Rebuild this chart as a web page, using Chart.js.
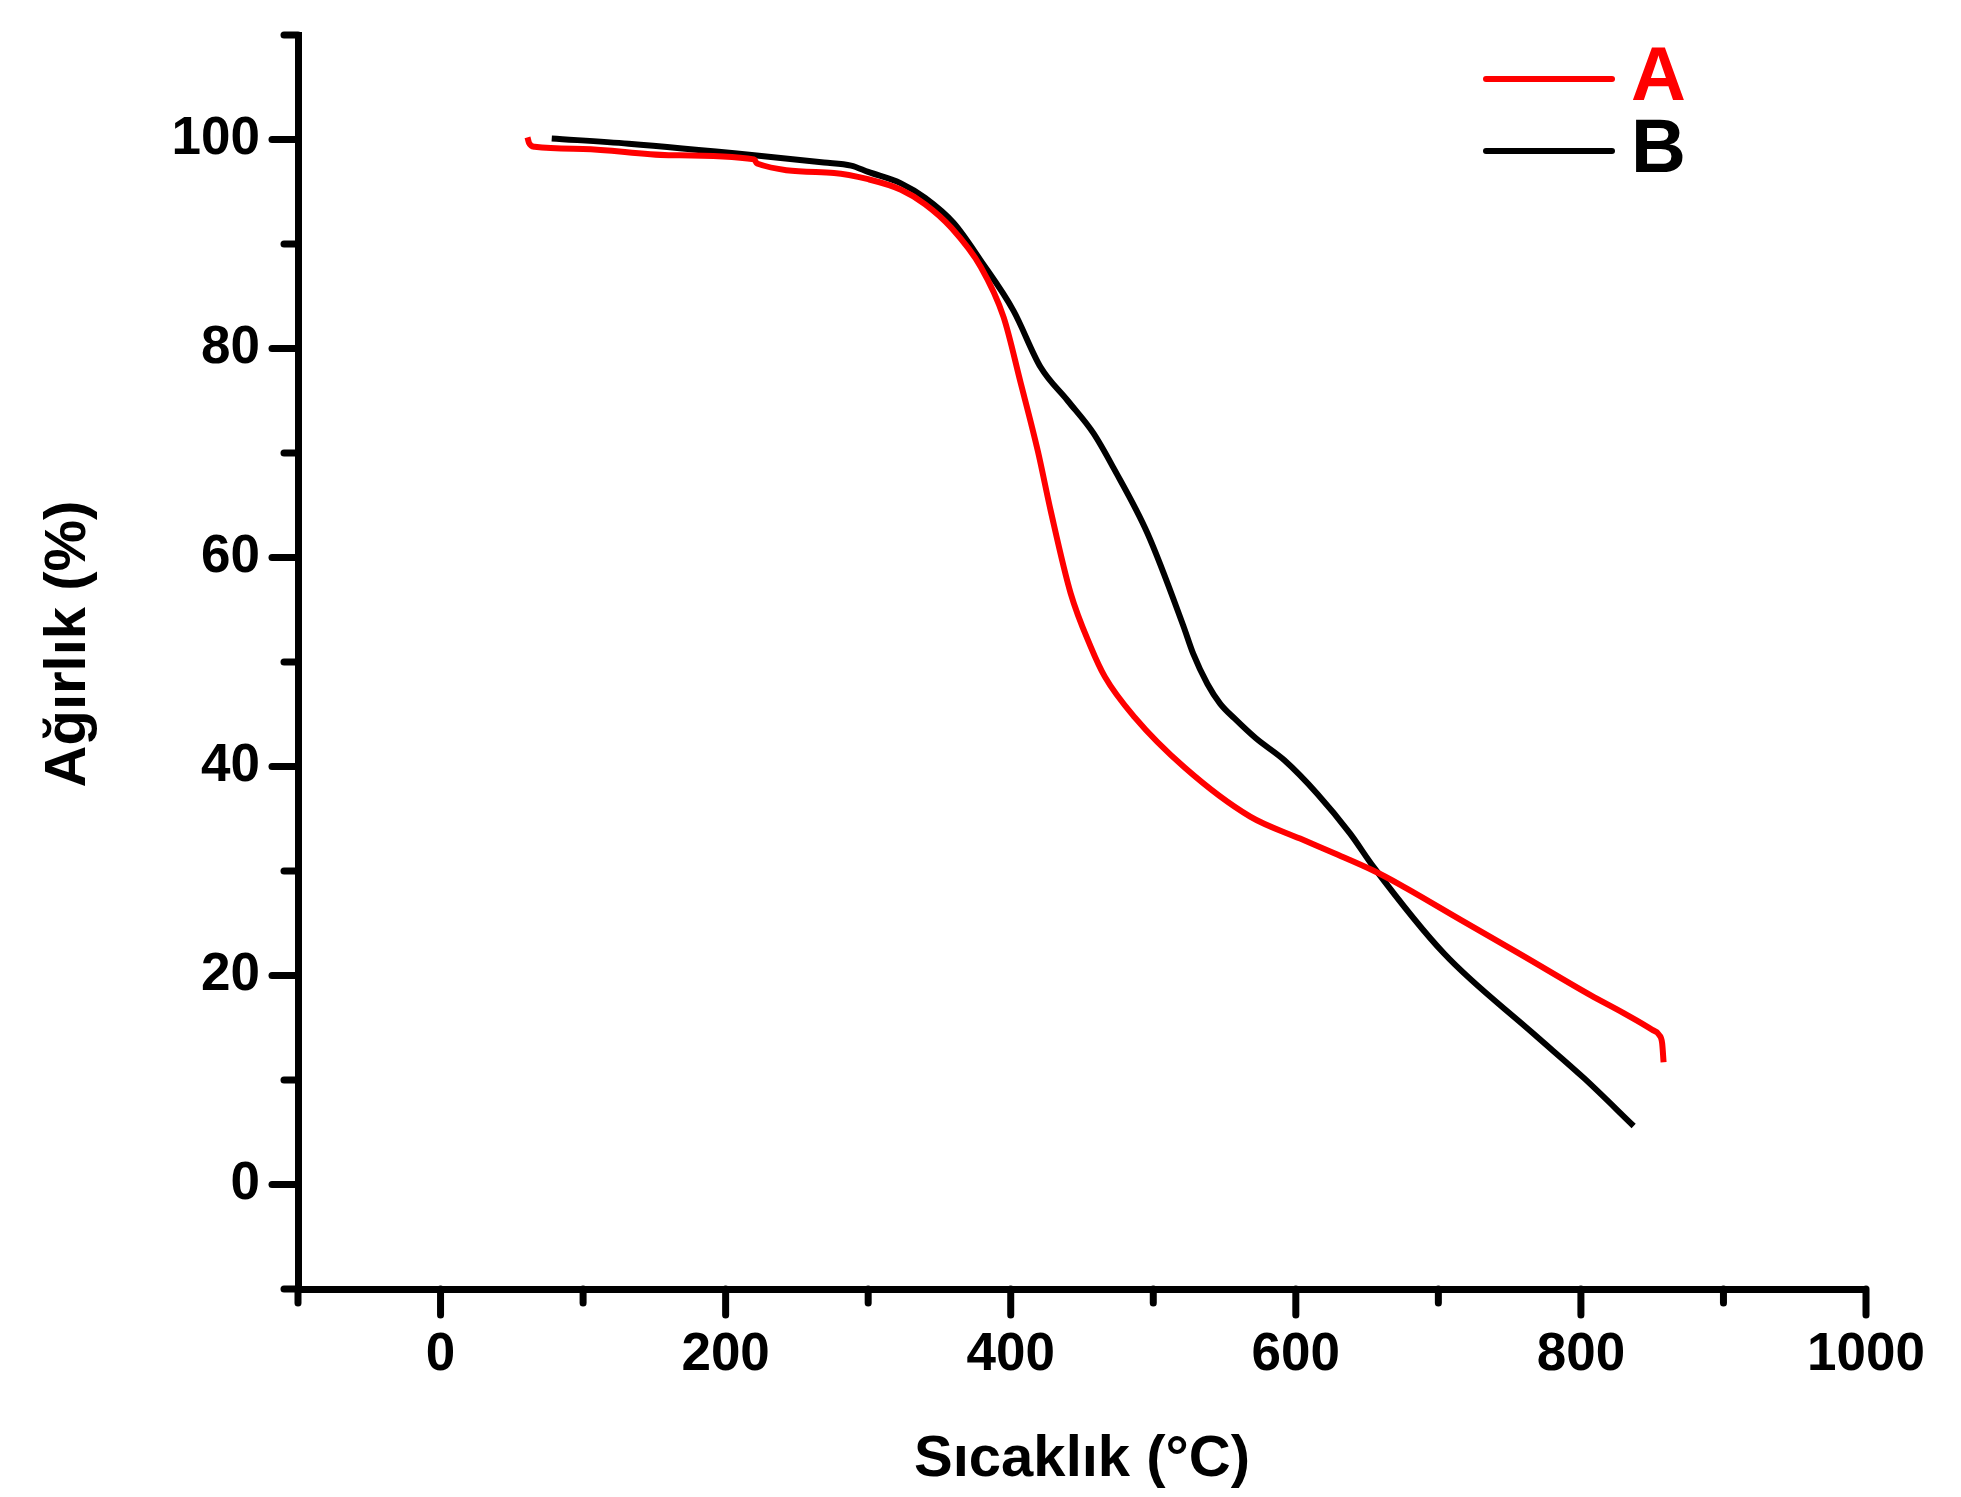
<!DOCTYPE html>
<html>
<head>
<meta charset="utf-8">
<title>TGA</title>
<script src="https://cdn.jsdelivr.net/npm/chart.js@4.4.1/dist/chart.umd.min.js"></script>
<style>
    html, body { margin: 0; padding: 0; background: #ffffff; }
    #wrap { width: 1961px; height: 1497px; }
</style>
</head>
<body>
<div id="wrap"><canvas id="tgaChart" width="1961" height="1497"></canvas></div>
<script>

// sample A (red)
const tempA = [61, 62, 66, 100, 160, 220, 222, 276, 300, 323, 340, 358, 379, 395, 407, 419, 428, 442, 456, 466, 487, 522, 568, 603, 627, 655, 673, 716, 758, 807, 830, 850, 855, 857, 858];
const weightA = [100.2, 99.7, 99.3, 99.1, 98.5, 98.1, 97.7, 96.8, 96.2, 95.2, 93.8, 91.6, 87.8, 83.0, 76.7, 70.2, 64.5, 56.6, 51.5, 48.6, 44.7, 39.9, 35.2, 33.1, 31.7, 30.0, 28.7, 25.3, 22.0, 18.1, 16.4, 14.8, 14.3, 13.5, 11.7];

// sample B (black)
const tempB = [78, 132, 220, 269, 288, 300, 323, 340, 360, 379, 402, 421, 440, 458, 472, 496, 521, 528, 538, 547, 557, 572, 592, 615, 638, 655, 704, 767, 802, 837];
const weightB = [100.1, 99.6, 98.5, 97.8, 97.5, 96.9, 95.8, 94.4, 92.0, 88.4, 83.6, 78.2, 75.0, 71.9, 68.6, 62.3, 53.5, 50.8, 47.9, 46.0, 44.6, 42.7, 40.6, 37.4, 33.6, 30.3, 22.1, 14.4, 10.2, 5.6];

const seriesLabels = ["A", "B"];
const seriesColors = ["#ff0000", "#000000"];

const xTickLabels = [0, 200, 400, 600, 800, 1000];
const yTickLabels = [0, 20, 40, 60, 80, 100];

const xTitle = "Sıcaklık (°C)";
const yTitle = "Ağırlık (%)";

const FONT = "'Liberation Sans', Arial, sans-serif";

function toPoints(xs, ys) {
    return xs.map((x, i) => ({ x: x, y: ys[i] }));
}

// major / minor tick marks drawn on the scales' own tick values
const tickMarks = {
    id: "tickMarks",
    afterDraw(chart) {
        const { ctx, chartArea, scales } = chart;
        ctx.save();
        ctx.strokeStyle = "#000000";
        ctx.lineWidth = 7;
        ctx.lineCap = "round";
        scales.x.ticks.forEach(t => {
            const px = scales.x.getPixelForValue(t.value);
            const len = xTickLabels.includes(t.value) ? 26 : 14;
            ctx.beginPath();
            ctx.moveTo(px, chartArea.bottom);
            ctx.lineTo(px, chartArea.bottom + len);
            ctx.stroke();
        });
        scales.y.ticks.forEach(t => {
            const py = scales.y.getPixelForValue(t.value);
            const len = yTickLabels.includes(t.value) ? 26 : 14;
            ctx.beginPath();
            ctx.moveTo(chartArea.left, py);
            ctx.lineTo(chartArea.left - len, py);
            ctx.stroke();
        });
        ctx.restore();
    }
};

// rotated y title, sitting a little above the middle of the axis
const yAxisTitle = {
    id: "yAxisTitle",
    afterDraw(chart) {
        const { ctx, chartArea } = chart;
        ctx.save();
        ctx.translate(69, (chartArea.top + chartArea.bottom) / 2 - 18);
        ctx.rotate(-Math.PI / 2);
        ctx.font = "bold 58px " + FONT;
        ctx.fillStyle = "#000000";
        ctx.textAlign = "center";
        ctx.textBaseline = "middle";
        ctx.fillText(yTitle, 0, 0);
        ctx.restore();
    }
};

// legend in the top right corner of the plot
const cornerLegend = {
    id: "cornerLegend",
    afterDraw(chart) {
        const { ctx, chartArea } = chart;
        ctx.save();
        ctx.font = "bold 76px " + FONT;
        ctx.textBaseline = "middle";
        ctx.lineWidth = 6;
        ctx.lineCap = "round";
        chart.data.datasets.forEach((ds, i) => {
            const y = chartArea.top + 44 + i * 72;
            const x0 = chartArea.right - 380;
            ctx.strokeStyle = ds.borderColor;
            ctx.beginPath();
            ctx.moveTo(x0, y);
            ctx.lineTo(x0 + 126, y);
            ctx.stroke();
            ctx.fillStyle = ds.borderColor;
            ctx.fillText(ds.label, x0 + 145, y);
        });
        ctx.restore();
    }
};

const ctx = document.getElementById("tgaChart").getContext("2d");

new Chart(ctx, {

    type: "line",

    data: {
        datasets: [
            {
                label: seriesLabels[0],
                data: toPoints(tempA, weightA),
                borderColor: seriesColors[0],
                backgroundColor: seriesColors[0],
                borderWidth: 6,
                pointRadius: 0,
                cubicInterpolationMode: "monotone",
                fill: false
            },
            {
                label: seriesLabels[1],
                data: toPoints(tempB, weightB),
                borderColor: seriesColors[1],
                backgroundColor: seriesColors[1],
                borderWidth: 6,
                pointRadius: 0,
                cubicInterpolationMode: "monotone",
                fill: false
            }
        ]
    },

    options: {
        responsive: false,
        animation: false,
        layout: {
            padding: { top: 35, right: 95, left: 0, bottom: 0 }
        },
        plugins: {
            legend: { display: false },
            tooltip: { enabled: false }
        },
        scales: {
            x: {
                type: "linear",
                min: -100,
                max: 1000,
                afterFit(scale) {
                    scale.height = 208;
                    scale.paddingLeft = 0;
                    scale.paddingRight = 0;
                },
                border: { display: true, color: "#000000", width: 7 },
                grid: { display: false, drawTicks: true, tickLength: 26 },
                ticks: {
                    stepSize: 100,
                    autoSkip: false,
                    maxRotation: 0,
                    padding: 9,
                    color: "#000000",
                    font: { family: FONT, size: 53, weight: "bold" },
                    callback: v => xTickLabels.includes(v) ? String(v) : ""
                },
                title: {
                    display: true,
                    text: xTitle,
                    color: "#000000",
                    padding: { bottom: 2, top: 0 },
                    font: { family: FONT, size: 58, weight: "bold" }
                }
            },
            y: {
                min: -10,
                max: 110,
                afterFit(scale) {
                    scale.width = 298;
                    scale.paddingTop = 0;
                    scale.paddingBottom = 0;
                },
                border: { display: true, color: "#000000", width: 7 },
                grid: { display: false, drawTicks: true, tickLength: 26 },
                ticks: {
                    stepSize: 10,
                    autoSkip: false,
                    padding: 12,
                    color: "#000000",
                    font: { family: FONT, size: 53, weight: "bold" },
                    callback: v => yTickLabels.includes(v) ? String(v) : ""
                },
                title: { display: false }
            }
        }
    },

    plugins: [tickMarks, yAxisTitle, cornerLegend]

});

</script>
</body>
</html>
